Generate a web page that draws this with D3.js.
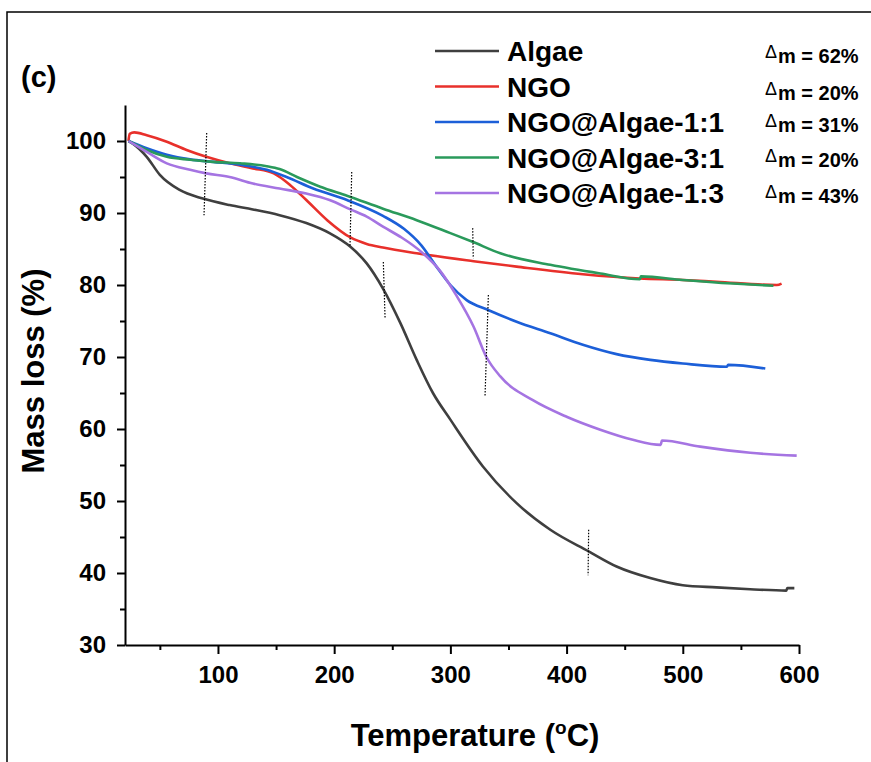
<!DOCTYPE html>
<html>
<head>
<meta charset="utf-8">
<script src="https://cdn.jsdelivr.net/npm/d3@7"></script>
<style>
  body { margin: 0; background: #fff; }
  text { font-family: "Liberation Sans", Arial, sans-serif; font-weight: bold; fill: #000; }
</style>
</head>
<body>
<div id="chart"></div>
<script>
// series names, colours and mass-loss labels
const seriesNames = ["Algae", "NGO", "NGO@Algae-1:1", "NGO@Algae-3:1", "NGO@Algae-1:3"];
const seriesColors = ["#3f3f3f", "#e8302b", "#1c5fd8", "#2a9a5b", "#a574e2"];
const deltaLabels = ["62%", "20%", "31%", "20%", "43%"];

// TGA curves, [temperature °C, mass %]
const algae = [[23,100],[27,99.6],[38.7,97.8],[50,95.3],[67,93.2],[87,92.0],[110,91.1],[130,90.5],[153,89.7],
  [176,88.6],[196,87.2],[214,85.3],[228,83.0],[242,79.5],[257,74.7],[271,69.6],[285,65.0],[300,61.3],
  [328,54.8],[357,49.7],[386,46.0],[419,43.0],[443,40.9],[472,39.3],[500,38.3],[529,38.0],[558,37.75],
  [589,37.55],[590,37.9],[596,37.9]];
const ngo = [[23,100],[24,101.0],[28,101.2],[38.7,100.8],[56,99.9],[73,98.75],[90,97.8],[110,96.9],[130,96.2],
  [148,95.5],[162,93.9],[176,91.8],[194,89.0],[214,86.6],[228,85.7],[242,85.2],[271,84.4],[320,83.3],
  [357,82.55],[414,81.5],[463,80.9],[500,80.7],[529,80.45],[581,80.0],[585,80.2]];
const ngoAlgae11 = [[23,100],[38.7,99.0],[56,98.1],[76,97.45],[96,97.1],[119,96.7],[142,96.0],[159,95.0],
  [182,93.4],[211,91.8],[242,89.6],[260,87.8],[275,85.5],[288,82.55],[300,80.0],[314,77.9],[333,76.5],[357,74.9],
  [386,73.3],[414,71.7],[443,70.4],[472,69.6],[500,69.1],[538,68.65],[539,68.9],[571,68.4]];
const ngoAlgae31 = [[23,100],[38.7,98.75],[56,97.8],[76,97.4],[96,97.1],[119,96.9],[142,96.5],[153,96.1],
  [168,95.0],[188,93.65],[211,92.4],[242,90.6],[271,89.0],[300,87.2],[319,86.0],[343,84.4],[386,82.8],
  [429,81.6],[463,80.8],[464,81.2],[500,80.7],[543,80.2],[578,79.9]];
const ngoAlgae13 = [[23,100],[38.7,98.5],[56,96.9],[76,96.0],[90,95.5],[110,95.0],[130,94.1],[153,93.4],
  [176,92.7],[196,91.8],[214,90.5],[228,89.5],[242,88.1],[258,86.6],[275,84.6],[291,82.0],[305,78.6],[320,74.2],
  [331,70.0],[343,67.3],[371,64.0],[400,61.7],[429,59.9],[457,58.5],[481,57.8],[482,58.4],[515,57.55],
  [558,56.7],[598,56.3]];
const seriesData = [algae, ngo, ngoAlgae11, ngoAlgae31, ngoAlgae13];

// dotted step markers, [[T1, m1], [T2, m2]]
const stepMarks = [
  [[90.3,101.1],[88.0,89.7]],
  [[215.1,95.7],[213.6,85.3]],
  [[319.2,87.9],[319.7,83.7]],
  [[242.3,83.2],[243.8,75.4]],
  [[332.7,78.6],[329.8,64.5]],
  [[419.0,46.0],[418.5,39.7]]
];

const xTicks = [100, 200, 300, 400, 500, 600];
const xMinor = [50, 150, 250, 350, 450, 550];
const yTicks = [30, 40, 50, 60, 70, 80, 90, 100];
const yMinor = [35, 45, 55, 65, 75, 85, 95];

const W = 871, H = 762;
const margin = { top: 105, right: 72, bottom: 117, left: 125 };
const width = W - margin.left - margin.right;
const height = H - margin.top - margin.bottom;

const svg = d3.select("#chart").append("svg")
  .attr("width", W)
  .attr("height", H);

// outer frame (cropped on right and bottom)
svg.append("rect")
  .attr("x", 7).attr("y", 12)
  .attr("width", 900).attr("height", 800)
  .attr("fill", "none")
  .attr("stroke", "#000")
  .attr("stroke-width", 1.5);

const g = svg.append("g")
  .attr("transform", `translate(${margin.left},${margin.top})`);

const x = d3.scaleLinear().domain([20, 600]).range([0, width]);
const y = d3.scaleLinear().domain([30, 105]).range([height, 0]);

// minor ticks
g.append("g")
  .attr("class", "x-minor")
  .attr("transform", `translate(0,${height})`)
  .call(d3.axisBottom(x).tickValues(xMinor).tickSize(5).tickFormat(""));
g.append("g")
  .attr("class", "y-minor")
  .call(d3.axisLeft(y).tickValues(yMinor).tickSize(5).tickFormat(""));

// major axes
g.append("g")
  .attr("class", "x-axis")
  .attr("transform", `translate(0,${height})`)
  .call(d3.axisBottom(x).tickValues(xTicks).tickSize(9).tickPadding(12).tickSizeOuter(0));
g.append("g")
  .attr("class", "y-axis")
  .call(d3.axisLeft(y).tickValues(yTicks).tickSize(8).tickPadding(11).tickSizeOuter(0));

g.selectAll(".x-axis text, .y-axis text")
  .style("font-size", "24px")
  .style("font-family", "'Liberation Sans', Arial, sans-serif")
  .style("font-weight", "bold");
g.selectAll(".domain").attr("stroke-width", 2);
g.selectAll(".tick line").attr("stroke-width", 2);
g.selectAll(".x-minor .domain, .y-minor .domain").remove();

// curves
const line = d3.line()
  .x(d => x(d[0]))
  .y(d => y(d[1]))
  .curve(d3.curveMonotoneX);

g.selectAll(".series")
  .data(seriesData)
  .enter().append("path")
  .attr("class", "series")
  .attr("fill", "none")
  .attr("stroke", (d, i) => seriesColors[i])
  .attr("stroke-width", 2.6)
  .attr("stroke-linejoin", "round")
  .attr("d", line);

// dotted markers
g.selectAll(".step")
  .data(stepMarks)
  .enter().append("line")
  .attr("class", "step")
  .attr("x1", d => x(d[0][0])).attr("y1", d => y(d[0][1]))
  .attr("x2", d => x(d[1][0])).attr("y2", d => y(d[1][1]))
  .attr("stroke", "#000")
  .attr("stroke-width", 1.2)
  .attr("stroke-dasharray", "1.5,1.5");

// axis titles
const xt = svg.append("text")
  .attr("x", 475).attr("y", 746)
  .attr("text-anchor", "middle")
  .style("font-size", "31px");
xt.append("tspan").text("Temperature (");
xt.append("tspan").text("o").attr("font-size", "19px").attr("dy", -12);
xt.append("tspan").text("C)").attr("dy", 12);

svg.append("text")
  .attr("transform", "translate(44,371) rotate(-90)")
  .attr("text-anchor", "middle")
  .style("font-size", "31px")
  .text("Mass loss (%)");

// panel label
svg.append("text")
  .attr("x", 21).attr("y", 87)
  .style("font-size", "29px")
  .text("(c)");

// legend
const deltaDy = [12, 13, 10, 9, 10];
const legend = svg.append("g").attr("class", "legend");
seriesNames.forEach((name, i) => {
  const ly = 51 + i * 35.5;
  legend.append("line")
    .attr("x1", 435).attr("x2", 499)
    .attr("y1", ly).attr("y2", ly)
    .attr("stroke", seriesColors[i])
    .attr("stroke-width", 2.5);
  legend.append("text")
    .attr("x", 507).attr("y", ly + 10)
    .style("font-size", "28px")
    .text(name);
  const by = ly + deltaDy[i];
  legend.append("text")
    .attr("x", 765).attr("y", by - 5)
    .style("font-size", "18px")
    .style("font-weight", "normal")
    .text("Δ");
  legend.append("text")
    .attr("x", 778).attr("y", by)
    .style("font-size", "20px")
    .text("m = " + deltaLabels[i]);
});
</script>
</body>
</html>
